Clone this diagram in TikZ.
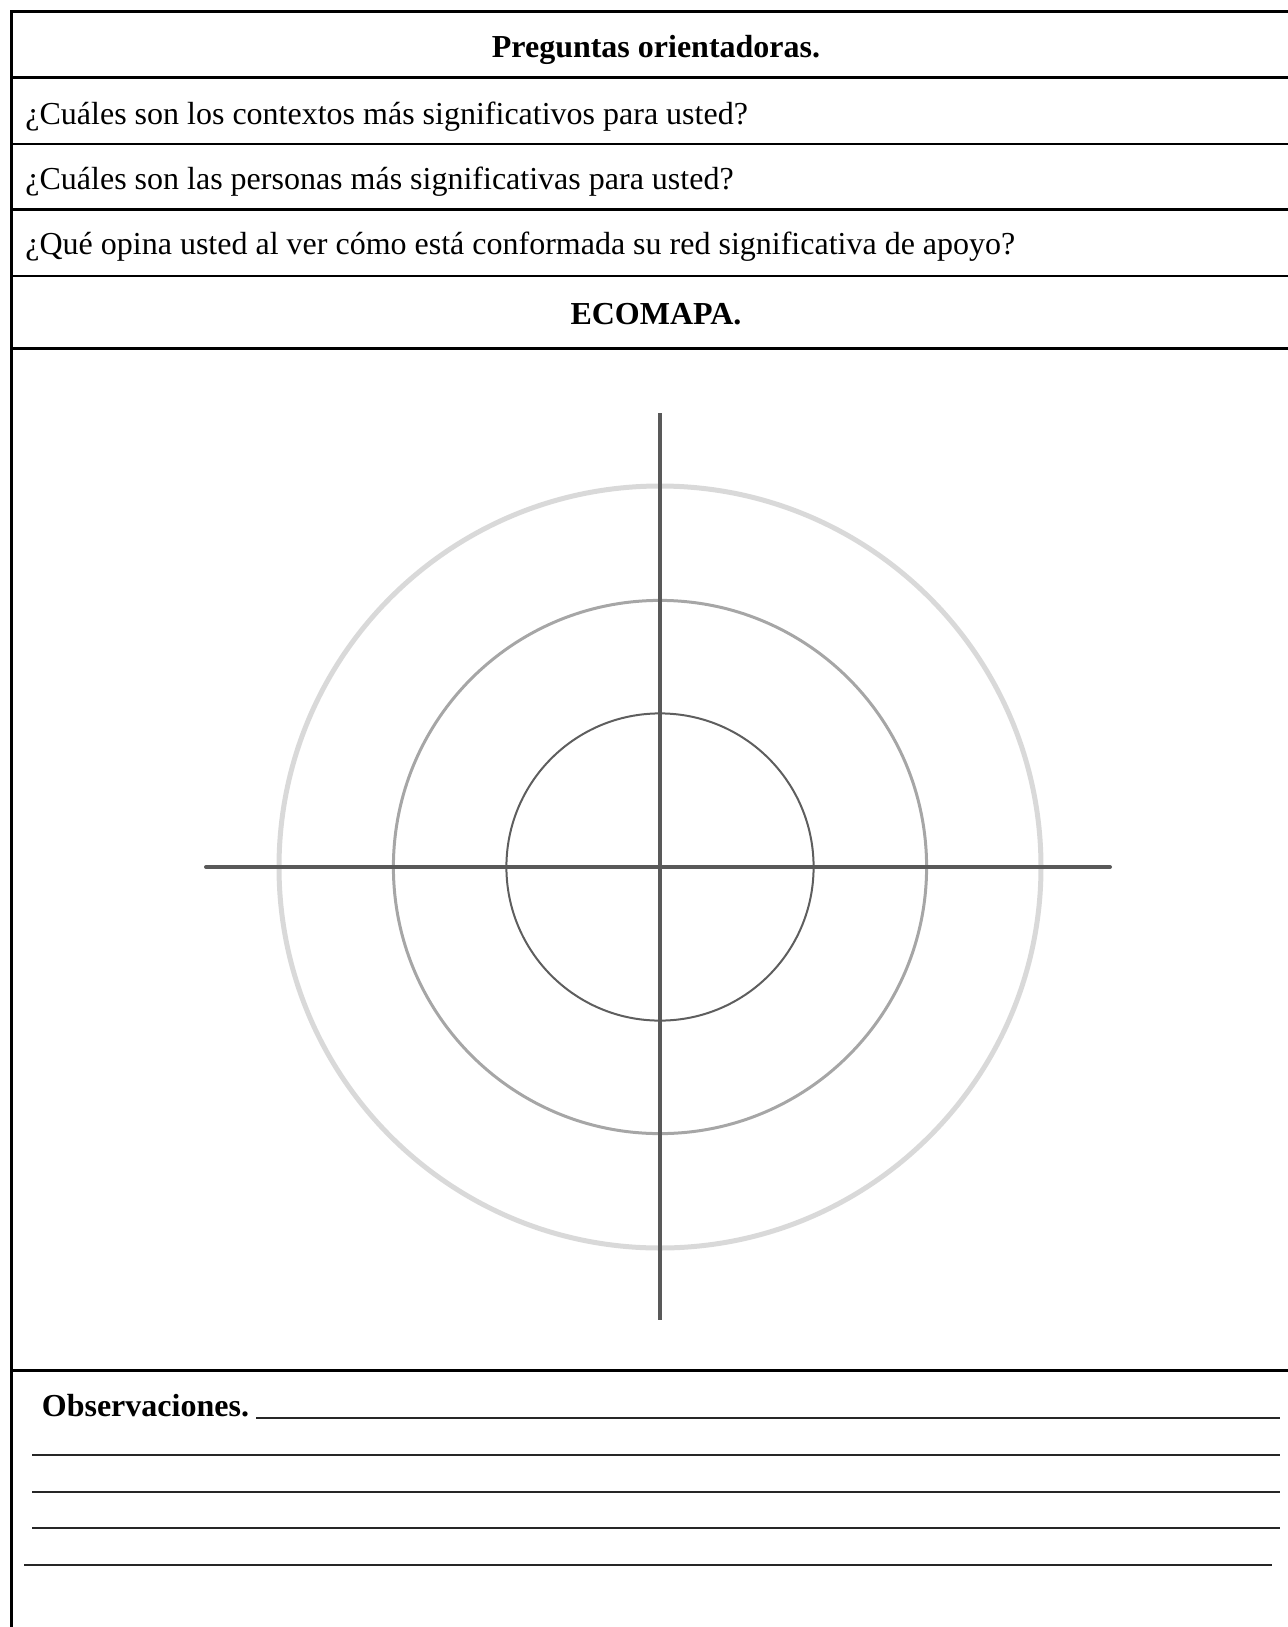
\documentclass[tikz,border=0pt]{standalone}
\usepackage{fontspec}
\setmainfont{Liberation Serif}
\definecolor{ringA}{HTML}{D9D9D9}
\definecolor{ringB}{HTML}{A6A6A6}
\definecolor{ringC}{HTML}{5E5E5E}
\definecolor{axis}{HTML}{595959}
\tikzset{
  rule/.style={line width=1.3pt, black},
  blank/.style={line width=0.8pt, black!85},
  qtext/.style={anchor=base west, inner sep=0pt, font=\fontsize{16}{19}\selectfont},
  htext/.style={anchor=base, inner sep=0pt, font=\fontsize{16}{19}\selectfont\bfseries},
}
\begin{document}
\begin{tikzpicture}[x=0.5pt,y=-0.5pt]
\useasboundingbox (0,0) rectangle (1288,1627);
% table rules
\draw[rule] (11.5,1627) -- (11.5,11.5) -- (1288,11.5);
\foreach \yy in {77.5,144,209.5,276,348.5,1370.5}
  \draw[rule] (11.5,\yy) -- (1288,\yy);
% texts
\node[htext] (h1) at (656,58) {Preguntas orientadoras.};
\node[qtext] (q1) at (25,124.5) {¿Cuáles son los contextos más significativos para usted?};
\node[qtext] (q2) at (25,189.5) {¿Cuáles son las personas más significativas para usted?};
\node[qtext] (q3) at (25,254) {¿Qué opina usted al ver cómo está conformada su red significativa de apoyo?};
\node[htext] (h2) at (656,324) {ECOMAPA.};
% ecomap
\coordinate (c) at (660,867);
\draw[ringA, line width=2.5pt] (c) circle[radius=190.5pt];
\draw[ringB, line width=1.5pt] (c) circle[radius=133.3pt];
\draw[ringC, line width=1pt] (c) circle[radius=76.8pt];
\coordinate (l) at (206,867);
\coordinate (r) at (1110,867);
\coordinate (t) at (660,413);
\coordinate (b) at (660,1320);
\draw[axis, line width=2pt, line cap=round] (l) -- (r);
\draw[axis, line width=2pt] (t) -- (b);
% observations
\node[anchor=base west, inner sep=0pt, font=\fontsize{16}{19}\selectfont\bfseries] (obs) at (41.5,1416) {Observaciones.};
\coordinate (o1) at (256,1418);
\coordinate (o1e) at (1280,1418);
\draw[blank] (o1) -- (o1e);
\foreach \yy in {1455,1492,1528}
  \draw[blank] (32,\yy) -- (1280,\yy);
\draw[blank] (24,1565) -- (1272,1565);
\end{tikzpicture}
\end{document}
